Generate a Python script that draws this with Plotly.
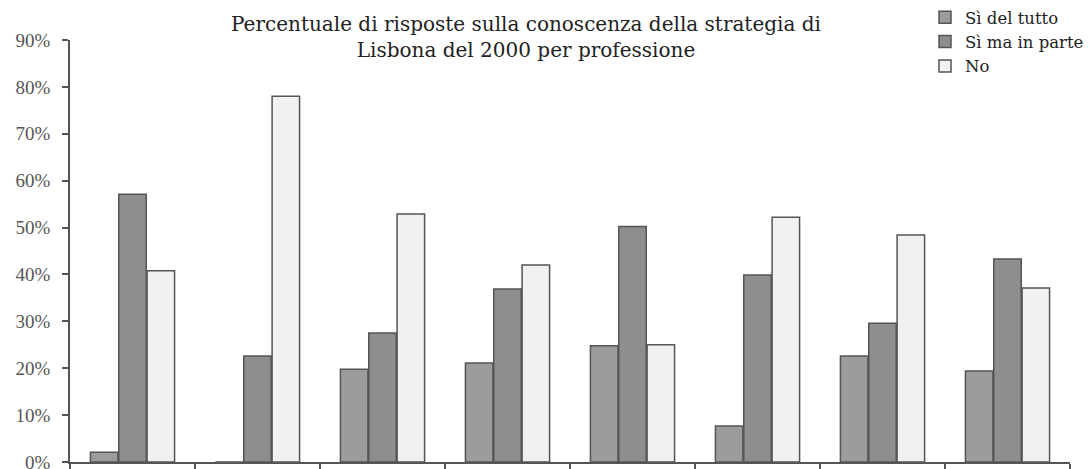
import plotly.graph_objects as go

categories = ["P1", "P2", "P3", "P4", "P5", "P6", "P7", "P8"]
si_del_tutto = [2.1, 0, 19.8, 21.1, 24.8, 7.7, 22.6, 19.4]
si_in_parte = [57.1, 22.6, 27.5, 36.9, 50.2, 39.9, 29.6, 43.3]
no = [40.8, 78.0, 52.9, 42.0, 25.0, 52.2, 48.4, 37.1]
series_names = ["Sì del tutto", "Sì ma in parte", "No"]
y_ticks = [0, 10, 20, 30, 40, 50, 60, 70, 80, 90]
y_tick_text = [f"{v}%" for v in y_ticks]

fills = ["#9c9c9c", "#8e8e8e", "#f1f1f1"]
line_col = "#555555"

fig = go.Figure()
for name, vals, col in zip(series_names, [si_del_tutto, si_in_parte, no], fills):
    fig.add_trace(go.Bar(
        x=categories, y=vals, name=name,
        marker=dict(color=col, line=dict(color=line_col, width=1.5)),
    ))

fig.update_layout(
    width=1091, height=469,
    margin=dict(l=62, r=29, t=32, b=15, autoexpand=False),
    paper_bgcolor="white", plot_bgcolor="white",
    barmode="group", bargap=0.32, bargroupgap=0.03,
    font=dict(family="DejaVu Serif", color="#222222"),
    title=dict(
        text="Percentuale di risposte sulla conoscenza della strategia di<br>Lisbona del 2000 per professione",
        x=0.456, xref="paper", xanchor="center",
        y=0.952, yref="container", yanchor="top",
        font=dict(family="DejaVu Serif", size=20, color="#222222"),
    ),
    legend=dict(
        x=0.855, xanchor="left", xref="paper",
        y=1.095, yanchor="top",
        font=dict(family="DejaVu Serif", size=16.5, color="#222222"),
        bgcolor="rgba(0,0,0,0)", tracegroupgap=0,
    ),
    showlegend=True,
)
fig.update_xaxes(
    showticklabels=False, showgrid=False,
    showline=True, linecolor=line_col, linewidth=1.5,
    ticks="outside", tickson="boundaries", ticklen=7, tickcolor=line_col, tickwidth=1.5,
)
fig.update_yaxes(
    range=[0, 90], tickvals=y_ticks, ticktext=y_tick_text,
    showgrid=False, zeroline=False,
    showline=True, linecolor=line_col, linewidth=1.5,
    ticks="outside", ticklen=6, tickcolor=line_col, tickwidth=1.5,
    ticklabelstandoff=8,
    tickfont=dict(family="Liberation Serif", size=19, color="#555555"),
)

fig.write_html("out.html")
